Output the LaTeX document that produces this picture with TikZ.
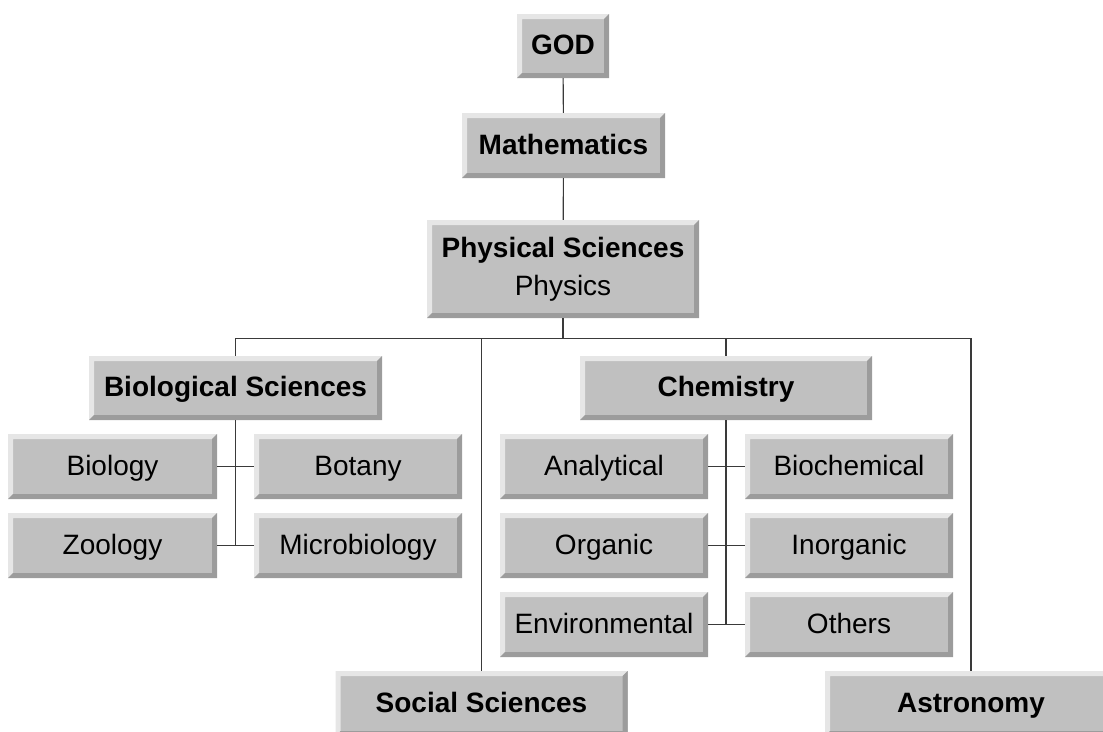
\documentclass[tikz,border=0pt]{standalone}
\usepackage{fontspec}
\setmainfont{Liberation Sans}
\definecolor{face}{HTML}{C0C0C0}
\definecolor{bevlight}{HTML}{E6E6E6}
\definecolor{bevdark}{HTML}{9C9C9C}
\definecolor{linec}{HTML}{3A3A3A}
\newcommand{\bvw}{5pt}
\tikzset{
  box/.style={rectangle, inner sep=0pt, fill=face, align=center,
    font=\fontsize{28}{38}\selectfont,
    path picture={
      \coordinate (pa) at (path picture bounding box.south west);
      \coordinate (pb) at (path picture bounding box.north west);
      \coordinate (pc) at (path picture bounding box.north east);
      \coordinate (pd) at (path picture bounding box.south east);
      \fill[bevlight] (pa) -- (pb) -- (pc) -- ([xshift=-\bvw,yshift=-\bvw]pc) -- ([xshift=\bvw,yshift=-\bvw]pb) -- ([xshift=\bvw,yshift=\bvw]pa) -- cycle;
      \fill[bevdark] (pa) -- (pd) -- (pc) -- ([xshift=-\bvw,yshift=-\bvw]pc) -- ([xshift=-\bvw,yshift=\bvw]pd) -- ([xshift=\bvw,yshift=\bvw]pa) -- cycle;
    }},
  one/.style={box, text height=25pt, text depth=8pt},
  conn/.style={draw=linec, line width=1.1pt}
}
\begin{document}
\begin{tikzpicture}[x=1pt,y=-1pt]
\useasboundingbox (0,0) rectangle (1103,731);
\clip (0,0) rectangle (1103,731);
\node[one, minimum width=92pt, minimum height=64pt] (god) at (563,46) {\bfseries GOD};
\node[one, minimum width=203pt, minimum height=65pt] (math) at (563.5,145.5) {\bfseries Mathematics};
\node[box, minimum width=272pt, minimum height=98pt] (phys) at (563,269) {\bfseries Physical Sciences\\Physics};
\node[one, minimum width=293pt, minimum height=64pt] (bio) at (235.5,388) {\bfseries Biological Sciences};
\node[one, minimum width=292pt, minimum height=64pt] (chem) at (726,388) {\bfseries Chemistry};
\node[one, minimum width=209pt, minimum height=65pt] (biology) at (112.5,466.5) {Biology};
\node[one, minimum width=208pt, minimum height=65pt] (botany) at (358,466.5) {Botany};
\node[one, minimum width=209pt, minimum height=65pt] (zoo) at (112.5,545.5) {Zoology};
\node[one, minimum width=208pt, minimum height=65pt] (micro) at (358,545.5) {Microbiology};
\node[one, minimum width=208pt, minimum height=65pt] (anal) at (604,466.5) {Analytical};
\node[one, minimum width=208pt, minimum height=65pt] (biochem) at (849,466.5) {Biochemical};
\node[one, minimum width=208pt, minimum height=65pt] (org) at (604,545.5) {Organic};
\node[one, minimum width=208pt, minimum height=65pt] (inorg) at (849,545.5) {Inorganic};
\node[one, minimum width=208pt, minimum height=65pt] (env) at (604,624.5) {Environmental};
\node[one, minimum width=208pt, minimum height=65pt] (others) at (849,624.5) {Others};
\node[one, minimum width=292pt, minimum height=65pt] (social) at (481.5,703.5) {\bfseries Social Sciences};
\node[one, minimum width=292pt, minimum height=65pt] (astro) at (971,703.5) {\bfseries Astronomy};
% lines
\draw[conn] (god) -- (math);
\draw[conn] (math) -- (phys);
\draw[conn] (phys.south) -- ++(0,20) coordinate (busC);
\draw[conn] (bio.north) |- (busC) -| (astro.north);
\draw[conn] (social.north) -- (social.north|-busC);
\draw[conn] (chem.north) -- (chem.north|-busC);
\draw[conn] (bio.south) -- (bio.south|-zoo.east);
\draw[conn] (biology.east) -- (botany.west);
\draw[conn] (zoo.east) -- (micro.west);
\draw[conn] (chem.south) -- (chem.south|-env.east);
\draw[conn] (anal.east) -- (biochem.west);
\draw[conn] (org.east) -- (inorg.west);
\draw[conn] (env.east) -- (others.west);
\end{tikzpicture}
\end{document}
